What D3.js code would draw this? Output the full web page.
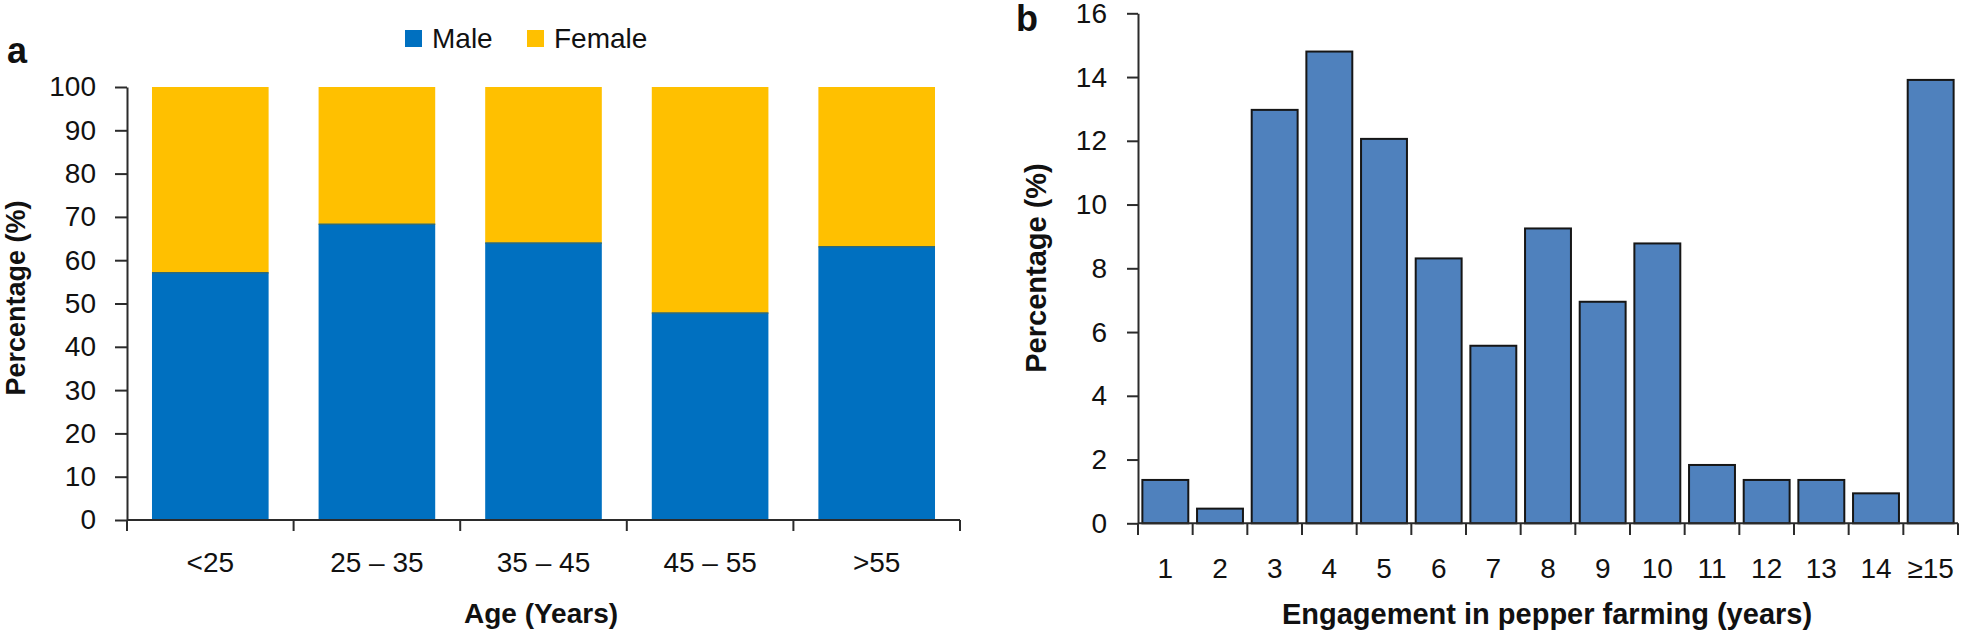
<!DOCTYPE html>
<html>
<head>
<meta charset="utf-8">
<script src="https://cdn.jsdelivr.net/npm/d3@7"></script>
<style>
  html, body { margin: 0; padding: 0; background: #fff; }
  svg { display: block; }
  text { font-family: "Liberation Sans", Arial, sans-serif; fill: #111; }
</style>
</head>
<body>
<svg id="chart" width="1961" height="634"></svg>
<script>
// ---- Panel a data ----
const ageGroups = ["<25", "25 \u2013 35", "35 \u2013 45", "45 \u2013 55", ">55"];
const maleShare = [57.1, 68.3, 64.0, 47.8, 63.1];
const femaleShare = [42.9, 31.7, 36.0, 52.2, 36.9];
const seriesNames = ["Male", "Female"];
const yTicksA = [0, 10, 20, 30, 40, 50, 60, 70, 80, 90, 100];

// ---- Panel b data ----
const engagementYears = ["1","2","3","4","5","6","7","8","9","10","11","12","13","14","\u226515"];
const engagementPct = [1.36, 0.46, 12.97, 14.8, 12.06, 8.31, 5.57, 9.25, 6.95, 8.78, 1.83, 1.36, 1.36, 0.94, 13.91];
const yTicksB = [0, 2, 4, 6, 8, 10, 12, 14, 16];

const svg = d3.select("#chart");
const colMale = "#0070C0", colFemale = "#FFC000";
const axisCol = "#2b2b2b";

// =================== Panel a ===================
const gA = svg.append("g");
const xA = d3.scaleBand().domain(ageGroups).range([127, 960]).paddingInner(0.3).paddingOuter(0.15);
const yA = d3.scaleLinear().domain([0, 100]).range([520, 87]);

const stackRows = ageGroups.map((g, i) => ({ group: g, Male: maleShare[i], Female: femaleShare[i] }));
const stacked = d3.stack().keys(seriesNames)(stackRows);
const colorA = d3.scaleOrdinal().domain(seriesNames).range([colMale, colFemale]);

gA.selectAll("g.layer").data(stacked).join("g")
  .attr("class", "layer")
  .attr("fill", d => colorA(d.key))
  .selectAll("rect").data(d => d).join("rect")
  .attr("x", d => xA(d.data.group))
  .attr("width", xA.bandwidth())
  .attr("y", d => yA(d[1]))
  .attr("height", d => yA(d[0]) - yA(d[1]));

// thin boundary line between segments
gA.selectAll("line.sep").data(stackRows).join("line")
  .attr("class", "sep")
  .attr("x1", d => xA(d.group)).attr("x2", d => xA(d.group) + xA.bandwidth())
  .attr("y1", d => yA(d.Male)).attr("y2", d => yA(d.Male))
  .attr("stroke", "#2f6a78").attr("stroke-width", 1.5);

// y axis
const yAxisA = gA.append("g").attr("transform", "translate(127,0)")
  .call(d3.axisLeft(yA).tickValues(yTicksA).tickSize(12).tickSizeOuter(0).tickPadding(19));
yAxisA.select(".domain").attr("stroke", axisCol).attr("stroke-width", 2);
yAxisA.selectAll(".tick line").attr("stroke", axisCol).attr("stroke-width", 2);
yAxisA.selectAll(".tick text").style("font-size", "28px").attr("fill", "#111");

// x axis (labels at band centers, ticks at band boundaries)
const xAxisA = gA.append("g").attr("transform", "translate(0,520)")
  .call(d3.axisBottom(xA).tickSize(0).tickPadding(0));
xAxisA.select(".domain").remove();
xAxisA.selectAll(".tick text").style("font-size", "28px").attr("y", 52).attr("dy", 0).attr("fill", "#111");
const boundsA = d3.range(ageGroups.length + 1).map(i => xA.range()[0] + i * xA.step());
gA.append("line").attr("x1", xA.range()[0]).attr("x2", xA.range()[1]).attr("y1", 520).attr("y2", 520)
  .attr("stroke", axisCol).attr("stroke-width", 2);
gA.selectAll("line.btick").data(boundsA).join("line").attr("class", "btick")
  .attr("x1", d => d).attr("x2", d => d).attr("y1", 520).attr("y2", 531)
  .attr("stroke", axisCol).attr("stroke-width", 2);

// titles
gA.append("text").attr("x", 541).attr("y", 623).attr("text-anchor", "middle")
  .style("font-size", "28px").style("font-weight", "bold").text("Age (Years)");
gA.append("text").attr("transform", "translate(25,298) rotate(-90)").attr("text-anchor", "middle")
  .style("font-size", "27px").style("font-weight", "bold").text("Percentage (%)");
gA.append("text").attr("x", 7).attr("y", 63).style("font-size", "36px").style("font-weight", "bold").text("a");

// legend
const legX = [405, 527];
const leg = gA.selectAll("g.leg").data(seriesNames).join("g").attr("class", "leg")
  .attr("transform", (d, i) => `translate(${legX[i]},30)`);
leg.append("rect").attr("width", 17).attr("height", 17).attr("fill", d => colorA(d));
leg.append("text").attr("x", 27).attr("y", 18).style("font-size", "28px").text(d => d);

// =================== Panel b ===================
const gB = svg.append("g");
const xB = d3.scaleBand().domain(engagementYears).range([1138, 1958]).paddingInner(0.16).paddingOuter(0.08);
const yB = d3.scaleLinear().domain([0, 16]).range([523.3, 13.3]);

gB.selectAll("rect.bar").data(engagementYears).join("rect").attr("class", "bar")
  .attr("x", d => xB(d))
  .attr("width", xB.bandwidth())
  .attr("y", (d, i) => yB(engagementPct[i]))
  .attr("height", (d, i) => yB(0) - yB(engagementPct[i]))
  .attr("fill", "#4F81BD").attr("stroke", "#161616").attr("stroke-width", 2);

const yAxisB = gB.append("g").attr("transform", "translate(1138,0)")
  .call(d3.axisLeft(yB).tickValues(yTicksB).tickSize(11).tickSizeOuter(0).tickPadding(20));
yAxisB.select(".domain").attr("stroke", axisCol).attr("stroke-width", 2);
yAxisB.selectAll(".tick line").attr("stroke", axisCol).attr("stroke-width", 2);
yAxisB.selectAll(".tick text").style("font-size", "28px").attr("fill", "#111");

const xAxisB = gB.append("g").attr("transform", "translate(0,523.3)")
  .call(d3.axisBottom(xB).tickSize(0).tickPadding(0));
xAxisB.select(".domain").remove();
xAxisB.selectAll(".tick text").style("font-size", "28px").attr("y", 55).attr("dy", 0).attr("fill", "#111");
const boundsB = d3.range(engagementYears.length + 1).map(i => xB.range()[0] + i * xB.step());
gB.append("line").attr("x1", xB.range()[0]).attr("x2", xB.range()[1]).attr("y1", 523.3).attr("y2", 523.3)
  .attr("stroke", axisCol).attr("stroke-width", 2);
gB.selectAll("line.btick").data(boundsB).join("line").attr("class", "btick")
  .attr("x1", d => d).attr("x2", d => d).attr("y1", 523.3).attr("y2", 535)
  .attr("stroke", axisCol).attr("stroke-width", 2);

gB.append("text").attr("x", 1547).attr("y", 624).attr("text-anchor", "middle")
  .style("font-size", "29px").style("font-weight", "bold").text("Engagement in pepper farming (years)");
gB.append("text").attr("transform", "translate(1046,268) rotate(-90)").attr("text-anchor", "middle")
  .style("font-size", "29px").style("font-weight", "bold").text("Percentage (%)");
gB.append("text").attr("x", 1016).attr("y", 31).style("font-size", "36px").style("font-weight", "bold").text("b");
</script>
</body>
</html>
